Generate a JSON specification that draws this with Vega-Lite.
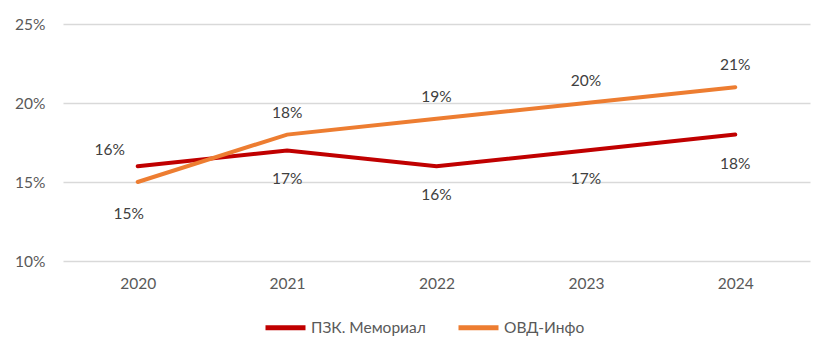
{
  "$schema": "https://vega.github.io/schema/vega-lite/v6.json",
  "width": 747,
  "height": 237,
  "autosize": {"type": "none"},
  "padding": {"left": 63, "top": 24, "right": 24, "bottom": 95},
  "background": "white",
  "config": {
    "view": {"stroke": null},
    "font": "Lato"
  },
  "data": {
    "values": [
      {"year": "2020", "series": "ПЗК. Мемориал", "value": 0.16},
      {"year": "2021", "series": "ПЗК. Мемориал", "value": 0.17},
      {"year": "2022", "series": "ПЗК. Мемориал", "value": 0.16},
      {"year": "2023", "series": "ПЗК. Мемориал", "value": 0.17},
      {"year": "2024", "series": "ПЗК. Мемориал", "value": 0.18},
      {"year": "2020", "series": "ОВД-Инфо", "value": 0.15},
      {"year": "2021", "series": "ОВД-Инфо", "value": 0.18},
      {"year": "2022", "series": "ОВД-Инфо", "value": 0.19},
      {"year": "2023", "series": "ОВД-Инфо", "value": 0.20},
      {"year": "2024", "series": "ОВД-Инфо", "value": 0.21}
    ]
  },
  "encoding": {
    "x": {
      "field": "year", "type": "ordinal", "title": null,
      "scale": {"type": "point", "padding": 0.5},
      "axis": {"labelAngle": 0, "ticks": false, "domain": false, "labelPadding": 15, "labelFontSize": 15.5, "labelColor": "#595959", "grid": false}
    },
    "y": {
      "field": "value", "type": "quantitative", "title": null,
      "scale": {"domain": [0.10, 0.25]},
      "axis": {"values": [0.10, 0.15, 0.20, 0.25], "format": ".0%", "ticks": false, "domain": false, "labelPadding": 18, "labelFontSize": 15.5, "labelColor": "#595959", "gridColor": "#d9d9d9", "gridWidth": 1.5}
    }
  },
  "layer": [
    {
      "mark": {"type": "line", "strokeWidth": 4, "strokeCap": "round"},
      "encoding": {
        "color": {
          "field": "series", "type": "nominal", "title": null,
          "scale": {"domain": ["ПЗК. Мемориал", "ОВД-Инфо"], "range": ["#C00000", "#ED7D31"]},
          "legend": {"orient": "none", "legendX": 200, "legendY": 281, "direction": "horizontal", "symbolType": "stroke", "symbolSize": 1600, "symbolStrokeWidth": 5, "labelFontSize": 15.5, "labelColor": "#595959", "columnPadding": 22, "labelOffset": 3}
        }
      }
    },
    {
      "transform": [{"filter": "datum.series == 'ОВД-Инфо' && datum.year != '2020'"}],
      "mark": {"type": "text", "dy": -22, "fontSize": 15.5, "color": "#404040"},
      "encoding": {"text": {"field": "value", "type": "quantitative", "format": ".0%"}}
    },
    {
      "transform": [{"filter": "datum.series == 'ПЗК. Мемориал' && datum.year != '2020'"}],
      "mark": {"type": "text", "dy": 29, "fontSize": 15.5, "color": "#404040"},
      "encoding": {"text": {"field": "value", "type": "quantitative", "format": ".0%"}}
    },
    {
      "transform": [{"filter": "datum.series == 'ПЗК. Мемориал' && datum.year == '2020'"}],
      "mark": {"type": "text", "dy": -16, "dx": -28, "fontSize": 15.5, "color": "#404040"},
      "encoding": {"text": {"field": "value", "type": "quantitative", "format": ".0%"}}
    },
    {
      "transform": [{"filter": "datum.series == 'ОВД-Инфо' && datum.year == '2020'"}],
      "mark": {"type": "text", "dy": 32, "dx": -9, "fontSize": 15.5, "color": "#404040"},
      "encoding": {"text": {"field": "value", "type": "quantitative", "format": ".0%"}}
    }
  ]
}
